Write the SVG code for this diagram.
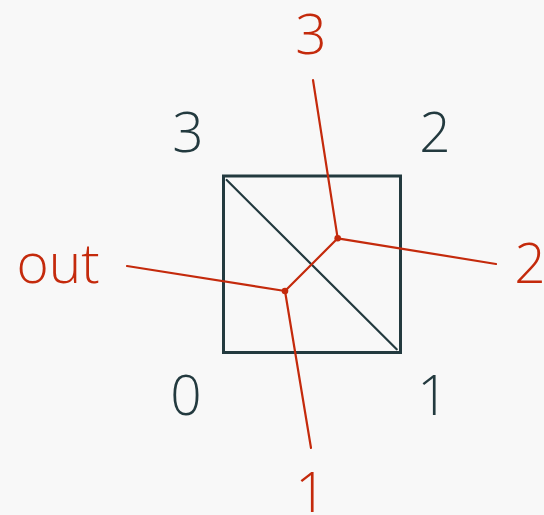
<svg xmlns="http://www.w3.org/2000/svg" width="544" height="515" viewBox="0 0 544 515">
<style>
.lbl{font-family:"Open Sans","Noto Sans",sans-serif;font-weight:300;font-size:55px;text-anchor:middle}
.dark{fill:#233a3f}
.red{fill:#c42a0c}
.edge{stroke:#c42a0c;stroke-width:2.2;fill:none;stroke-linecap:round}
</style>
<rect width="544" height="515" fill="#f8f8f8"/>
<g id="square">
<rect x="223.5" y="176" width="177" height="176.5" fill="none" stroke="#233a3f" stroke-width="3"/>
<line x1="226.7" y1="180" x2="396.7" y2="349.3" stroke="#233a3f" stroke-width="2.2" stroke-linecap="round"/>
</g>
<g id="corner-labels">
<text class="lbl dark" x="188" y="152">3</text>
<text class="lbl dark" x="435" y="152">2</text>
<text class="lbl dark" x="186" y="415">0</text>
<text class="lbl dark" x="433" y="415">1</text>
</g>
<g id="connectors">
<line class="edge" x1="313" y1="80" x2="337.7" y2="238.3"/>
<line class="edge" x1="337.7" y1="238.3" x2="496" y2="264"/>
<line class="edge" x1="337.7" y1="238.3" x2="285" y2="291"/>
<line class="edge" x1="285" y1="291" x2="127" y2="266"/>
<line class="edge" x1="285" y1="291" x2="311" y2="448"/>
</g>
<g id="junction-a"><circle cx="337.7" cy="238.3" r="3.3" fill="#c42a0c"/></g>
<g id="junction-b"><circle cx="285" cy="291" r="3.3" fill="#c42a0c"/></g>
<g id="port-labels">
<text class="lbl red" x="311" y="54">3</text>
<text class="lbl red" x="530" y="283">2</text>
<text class="lbl red" x="58" y="283">out</text>
<text class="lbl red" x="311" y="512">1</text>
</g>
</svg>
